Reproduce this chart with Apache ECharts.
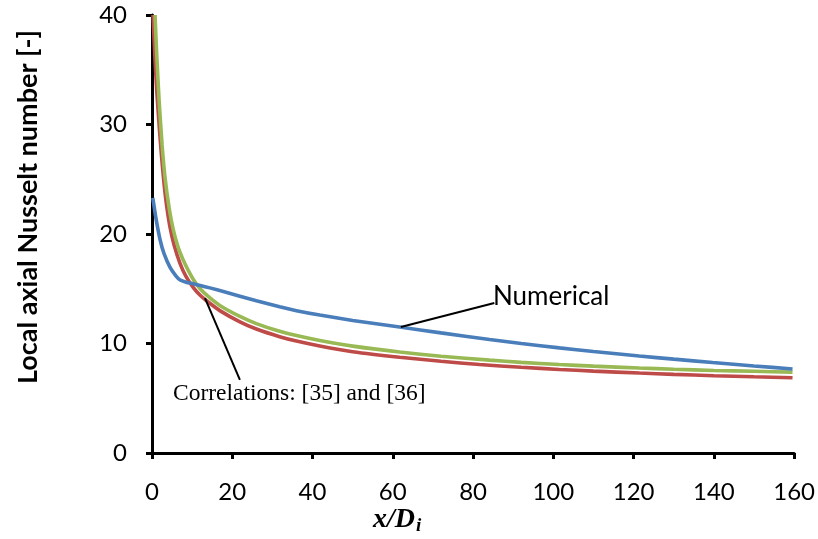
<!DOCTYPE html>
<html>
<head>
<meta charset="utf-8">
<script src="https://cdn.jsdelivr.net/npm/echarts@6/dist/echarts.min.js"></script>
<style>html,body{margin:0;padding:0;background:#fff}#c{width:818px;height:539px}</style>
</head>
<body>
<div id="c"></div>
<script>
// Numerical (blue)
const numX = [0.2, 1, 2, 3, 4.5, 6, 7, 8.5, 10.3, 12, 14.4, 18, 21.9, 26, 31.8, 36, 41.8, 50, 61.7, 72, 84.1, 92, 101.5, 110, 121.4, 130, 139.7, 150, 159.6];
const numY = [23.3, 21.4, 19.5, 18.2, 16.95, 16.15, 15.8, 15.6, 15.45, 15.3, 15.08, 14.72, 14.32, 13.9, 13.35, 13.0, 12.6, 12.1, 11.5, 10.97, 10.37, 10.0, 9.6, 9.27, 8.86, 8.57, 8.26, 7.95, 7.67];
// Correlation [35] (red)
const redX = [0.25, 0.7, 1.2, 1.8, 2.4, 3, 3.6, 4.5, 5.5, 7, 8.5, 10.3, 12, 13.6, 17, 21.9, 26, 31.8, 36, 41.8, 50, 61.7, 72, 81.6, 92, 101.5, 110, 121.4, 130, 140, 150, 159.6];
const redY = [40, 36.3, 33.0, 29.8, 27.0, 24.6, 22.7, 20.6, 19.0, 17.3, 16.1, 15.1, 14.4, 13.9, 12.98, 11.98, 11.32, 10.62, 10.22, 9.77, 9.25, 8.74, 8.38, 8.08, 7.83, 7.63, 7.48, 7.3, 7.18, 7.06, 6.96, 6.87];
// Correlation [36] (green)
const greenX = [0.75, 1.2, 1.8, 2.5, 3.2, 4.3, 5.3, 6.5, 7.8, 9, 10.3, 12, 14, 17, 21.9, 26, 31.8, 36, 41.8, 50, 61.7, 72, 84.1, 92, 101.5, 110, 121.4, 130, 140, 150, 159.6];
const greenY = [40, 36.2, 32.0, 28.2, 25.3, 22.3, 20.4, 18.8, 17.6, 16.7, 15.85, 15.0, 14.3, 13.45, 12.47, 11.82, 11.12, 10.72, 10.27, 9.76, 9.22, 8.84, 8.48, 8.28, 8.08, 7.93, 7.76, 7.65, 7.54, 7.46, 7.39];
// Axis ticks
const xTicks = [0, 20, 40, 60, 80, 100, 120, 140, 160];
const yTicks = [0, 10, 20, 30, 40];
// Annotation leader lines (data coordinates)
const numLeader = [[62, 11.5], [85.3, 13.7]];
const corrLeader = [[13.2, 14.15], [21.9, 6.67]];

const pairs = (xs, ys) => xs.map((x, i) => [x, ys[i]]);

const chart = echarts.init(document.getElementById('c'), null, {renderer: 'canvas'});
const tickFont = {fontFamily: 'Lato', fontSize: 24, color: '#000'};
const axisLine = {show: true, lineStyle: {color: '#000', width: 3}};
const axisTick = {show: true, length: 6, lineStyle: {color: '#000', width: 3}};

chart.setOption({
  animation: false,
  backgroundColor: '#fff',
  grid: {left: 152, right: 23, top: 15, bottom: 86, containLabel: false},
  xAxis: {
    type: 'value', min: xTicks[0], max: xTicks[xTicks.length - 1], interval: 20,
    axisLine: axisLine, axisTick: axisTick, splitLine: {show: false},
    axisLabel: Object.assign({margin: 27}, tickFont)
  },
  yAxis: {
    type: 'value', min: yTicks[0], max: yTicks[yTicks.length - 1], interval: 10,
    axisLine: axisLine, axisTick: axisTick, splitLine: {show: false},
    axisLabel: Object.assign({margin: 25}, tickFont)
  },
  series: [
    {
      name: 'Numerical', type: 'line', data: pairs(numX, numY), showSymbol: false, smooth: 0.2,
      lineStyle: {color: '#4A7EBB', width: 3.6}, itemStyle: {color: '#4A7EBB'}, z: 3,
      markLine: {
        silent: true, symbol: ['none', 'none'], animation: false,
        label: {show: false},
        lineStyle: {color: '#000', width: 2, type: 'solid'},
        data: [
          [{coord: numLeader[0]}, {coord: numLeader[1]}],
          [{coord: corrLeader[0]}, {coord: corrLeader[1]}]
        ]
      }
    },
    {
      name: 'Correlation [35]', type: 'line', data: pairs(redX, redY), showSymbol: false, smooth: 0.2,
      lineStyle: {color: '#BE4B48', width: 3.6}, itemStyle: {color: '#BE4B48'}, z: 2
    },
    {
      name: 'Correlation [36]', type: 'line', data: pairs(greenX, greenY), showSymbol: false, smooth: 0.2,
      lineStyle: {color: '#98B954', width: 3.6}, itemStyle: {color: '#98B954'}, z: 2
    }
  ],
  graphic: [
    {
      type: 'text', x: 28, y: 207, rotation: Math.PI / 2,
      style: {text: 'Local axial Nusselt number [-]', fontFamily: 'Lato', fontWeight: 'bold', fontSize: 27,
        fill: '#000', textAlign: 'center', textVerticalAlign: 'middle'}
    },
    {
      type: 'text', x: 493, y: 297,
      style: {text: 'Numerical', fontFamily: 'Lato', fontSize: 26, fill: '#000', textAlign: 'left', textVerticalAlign: 'middle'}
    },
    {
      type: 'text', x: 173, y: 394,
      style: {text: 'Correlations: [35] and [36]', fontFamily: 'Liberation Serif', fontSize: 23.5, fill: '#000', textAlign: 'left', textVerticalAlign: 'middle'}
    },
    {
      type: 'text', x: 373, y: 520,
      style: {
        text: '{a|x/D}{b|i}', textAlign: 'left', textVerticalAlign: 'middle',
        rich: {
          a: {fontFamily: 'Liberation Serif', fontStyle: 'italic', fontWeight: 'bold', fontSize: 28, fill: '#000', color: '#000'},
          b: {fontFamily: 'Liberation Serif', fontStyle: 'italic', fontWeight: 'bold', fontSize: 19, fill: '#000', color: '#000', padding: [12, 0, 0, 1]}
        }
      }
    }
  ]
});
</script>
</body>
</html>
